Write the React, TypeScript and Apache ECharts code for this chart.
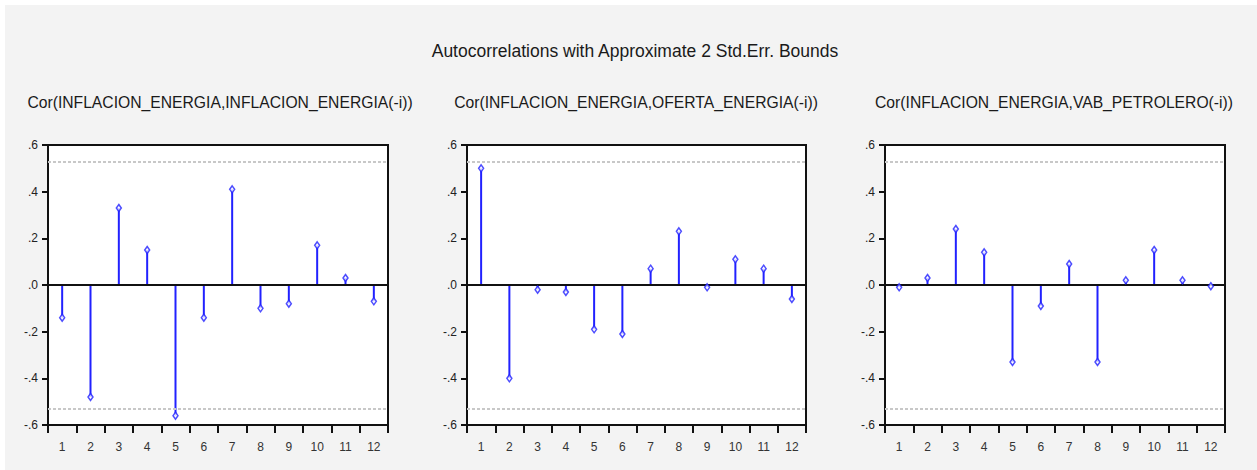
import React, { useEffect, useRef } from "react";
import * as echarts from "echarts";

const lags = ["1", "2", "3", "4", "5", "6", "7", "8", "9", "10", "11", "12"];
const acfInflacion = [-0.14, -0.48, 0.33, 0.15, -0.56, -0.14, 0.41, -0.1, -0.08, 0.17, 0.03, -0.07];
const ccfOferta = [0.5, -0.4, -0.02, -0.03, -0.19, -0.21, 0.07, 0.23, -0.01, 0.11, 0.07, -0.06];
const ccfVab = [-0.01, 0.03, 0.24, 0.14, -0.33, -0.09, 0.09, -0.33, 0.02, 0.15, 0.02, -0.005];
const stdErrBound = 0.5345;
const yTickValues = [-0.6, -0.4, -0.2, 0, 0.2, 0.4, 0.6];
const yTickLabels = ["-.6", "-.4", "-.2", ".0", ".2", ".4", ".6"];
const mainTitle = "Autocorrelations with Approximate 2 Std.Err. Bounds";
const panelTitles = [
  "Cor(INFLACION_ENERGIA,INFLACION_ENERGIA(-i))",
  "Cor(INFLACION_ENERGIA,OFERTA_ENERGIA(-i))",
  "Cor(INFLACION_ENERGIA,VAB_PETROLERO(-i))",
];
const panelSeries = [acfInflacion, ccfOferta, ccfVab];

const FONT = "'Liberation Sans', Arial, sans-serif";
const BLUE = "#2121ff";

export default function App() {
  const ref = useRef<HTMLDivElement>(null);
  useEffect(() => {
    if (!ref.current) return;
    const chart = echarts.init(ref.current, undefined, { renderer: "svg" });
    const panels = [
      { left: 48, width: 340, titleX: 215 },
      { left: 467, width: 339, titleX: 631 },
      { left: 885, width: 340, titleX: 1049 },
    ];
    const yLabel = (v: number) => {
      const i = yTickValues.findIndex((t) => Math.abs(t - v) < 1e-6);
      return i >= 0 ? yTickLabels[i] : "";
    };
    const grid: any[] = [];
    const xAxis: any[] = [];
    const yAxis: any[] = [];
    const series: any[] = [];
    const title: any[] = [
      {
        text: mainTitle,
        left: 630,
        top: 37,
        textAlign: "center",
        textStyle: { fontFamily: FONT, fontSize: 17.5, fontWeight: "normal", color: "#1a1a1a" },
      },
    ];
    panels.forEach((p, i) => {
      grid.push({
        left: p.left,
        width: p.width,
        top: 145,
        height: 280,
        show: true,
        backgroundColor: "#ffffff",
        borderColor: "#111",
        borderWidth: 2,
      });
      title.push({
        text: panelTitles[i],
        left: p.titleX,
        top: 89,
        textAlign: "center",
        textStyle: { fontFamily: FONT, fontSize: 15.7, fontWeight: "normal", color: "#1a1a1a" },
      });
      xAxis.push({
        type: "category",
        gridIndex: i,
        data: lags,
        boundaryGap: true,
        axisLine: { show: true, onZero: false, lineStyle: { color: "#111", width: 2 } },
        axisTick: { show: true, inside: false, length: 8, alignWithLabel: false, interval: 0, lineStyle: { color: "#111", width: 2 } },
        axisLabel: { interval: 0, margin: 16, fontFamily: FONT, fontSize: 12, color: "#333" },
        splitLine: { show: false },
      });
      yAxis.push({
        type: "value",
        gridIndex: i,
        min: -0.6,
        max: 0.6,
        interval: 0.2,
        axisLine: { show: true, lineStyle: { color: "#111", width: 2 } },
        axisTick: { show: true, length: 6, lineStyle: { color: "#111", width: 2 } },
        axisLabel: { margin: 10, fontFamily: FONT, fontSize: 12, color: "#222", formatter: yLabel },
        splitLine: { show: false },
      });
      series.push({
        type: "bar",
        xAxisIndex: i,
        yAxisIndex: i,
        data: panelSeries[i],
        barWidth: 2,
        itemStyle: { color: BLUE },
        z: 3,
        markLine: {
          silent: true,
          symbol: "none",
          label: { show: false },
          data: [
            { yAxis: stdErrBound, lineStyle: { color: "#c8c8c8", type: [3, 2], width: 2 } },
            { yAxis: -stdErrBound, lineStyle: { color: "#c8c8c8", type: [3, 2], width: 2 } },
            { yAxis: 0, lineStyle: { color: "#111", type: "solid", width: 2 } },
          ],
        },
      });
      series.push({
        type: "scatter",
        xAxisIndex: i,
        yAxisIndex: i,
        data: panelSeries[i],
        symbol: "diamond",
        symbolSize: [5, 7],
        itemStyle: { color: "#ffffff", borderColor: BLUE, borderWidth: 1.5 },
        z: 5,
      });
    });
    chart.setOption({
      animation: false,
      backgroundColor: "#ffffff",
      graphic: [
        {
          type: "rect",
          shape: { x: 5, y: 5, width: 1252, height: 465 },
          style: { fill: "#f3f3f3" },
          z: -10,
          silent: true,
        },
      ],
      title,
      grid,
      xAxis,
      yAxis,
      series,
    });
    return () => chart.dispose();
  }, []);
  return (
    <div
      ref={ref}
      style={{ position: "fixed", left: 0, top: 0, width: 1257, height: 470 }}
    />
  );
}
